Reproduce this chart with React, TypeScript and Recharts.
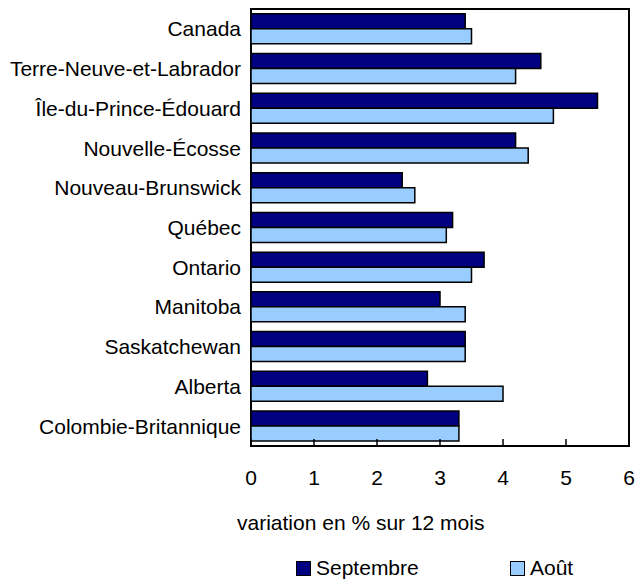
import { BarChart, Bar, XAxis, YAxis, ReferenceArea, Legend, Label } from "recharts";

// variation en % sur 12 mois, par province
const provinces = [
  "Canada",
  "Terre-Neuve-et-Labrador",
  "Île-du-Prince-Édouard",
  "Nouvelle-Écosse",
  "Nouveau-Brunswick",
  "Québec",
  "Ontario",
  "Manitoba",
  "Saskatchewan",
  "Alberta",
  "Colombie-Britannique",
];
const septembre = [3.4, 4.6, 5.5, 4.2, 2.4, 3.2, 3.7, 3.0, 3.4, 2.8, 3.3];
const aout = [3.5, 4.2, 4.8, 4.4, 2.6, 3.1, 3.5, 3.4, 3.4, 4.0, 3.3];
const xTicks = [0, 1, 2, 3, 4, 5, 6];

const series = [
  { key: "septembre", name: "Septembre", color: "#000080" },
  { key: "aout", name: "Août", color: "#99CCFF" },
];

const data = provinces.map((name, i) => ({
  name,
  septembre: septembre[i],
  aout: aout[i],
}));

const FONT = "'Liberation Sans', Arial, Helvetica, sans-serif";
const FS = 21;

// tick vers l'intérieur + étiquette sous l'axe
const XTick = (props: any) => {
  const { x, y, payload } = props;
  return (
    <g>
      <line x1={x} y1={y} x2={x} y2={y - 7} stroke="#000" strokeWidth={1.5} />
      <text x={x} y={y + 39} textAnchor="middle" fontSize={FS} fill="#000">
        {payload.value}
      </text>
    </g>
  );
};

// légende dans l'ordre des séries
const LegendBox = () => (
  <div style={{ display: "flex", paddingLeft: 296, height: 24, alignItems: "center", fontSize: FS, color: "#000" }}>
    {series.map((s) => (
      <div key={s.key} style={{ display: "flex", alignItems: "center", flex: "0 0 214px", whiteSpace: "nowrap" }}>
        <span
          style={{
            display: "inline-block",
            width: 13,
            height: 13,
            background: s.color,
            border: "1.5px solid #000",
            marginRight: 5,
          }}
        />
        <span>{s.name}</span>
      </div>
    ))}
  </div>
);

export default function App() {
  return (
    <div style={{ position: "absolute", left: 0, top: 0, fontFamily: FONT }}>
      <BarChart
        width={637}
        height={581}
        data={data}
        layout="vertical"
        margin={{ top: 9, right: 8, bottom: 1, left: 0 }}
        barCategoryGap="12%"
        barGap={0}
        style={{ fontFamily: FONT }}
      >
        <XAxis
          type="number"
          domain={[0, 6]}
          ticks={xTicks}
          height={110}
          axisLine={false}
          tickLine={false}
          tickSize={0}
          tickMargin={0}
          tick={<XTick />}
          interval={0}
        >
          <Label
            content={(p: any) => (
              <text x={p.viewBox.x - 14} y={p.viewBox.y + 84} fontSize={FS} fill="#000" textAnchor="start">
                variation en % sur 12 mois
              </text>
            )}
          />
        </XAxis>
        <YAxis
          type="category"
          dataKey="name"
          width={251}
          axisLine={false}
          tickLine={false}
          tickSize={0}
          tickMargin={10}
          interval={0}
          tick={{ fontSize: FS, fill: "#000" }}
        />
        <Legend verticalAlign="bottom" wrapperStyle={{ left: 0, width: 637, overflow: "visible" }} content={<LegendBox />} />
        {series.map((s) => (
          <Bar
            key={s.key}
            dataKey={s.key}
            name={s.name}
            fill={s.color}
            stroke="#000"
            strokeWidth={1.5}
            isAnimationActive={false}
          />
        ))}
        <ReferenceArea x1={0} x2={6} fill="none" stroke="#000" strokeWidth={2} ifOverflow="visible" />
      </BarChart>
    </div>
  );
}
